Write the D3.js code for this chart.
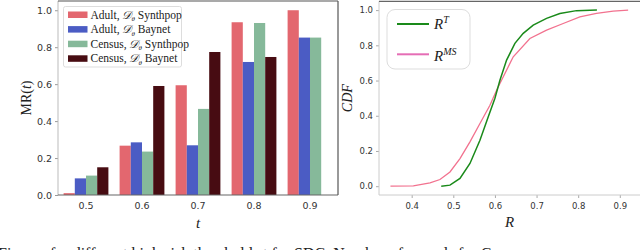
<!DOCTYPE html>
<html lang="en">
<head>
  <meta charset="UTF-8" />
  <title>MR(t) and CDF of R</title>
  <script src="https://cdnjs.cloudflare.com/ajax/libs/d3/7.8.2/d3.min.js"></script>
  <style>
    body { margin: 0; padding: 0; background: #fff; }
    svg { display: block; }
    .tick text { font-family: "DejaVu Sans", sans-serif; fill: #333; }
    .serif { font-family: "Liberation Serif", "DejaVu Serif", serif; fill: #222; }
  </style>
</head>
<body>
<svg id="chart" width="640" height="250"></svg>

<script>
/* ---------- data: left panel (bars) ---------- */
const thresholds = ["0.5", "0.6", "0.7", "0.8", "0.9"];
const seriesLabels = ["Adult", "Adult", "Census", "Census"];
const seriesMethods = ["Synthpop", "Baynet", "Synthpop", "Baynet"];
const adultSynthpop  = [0.010, 0.267, 0.594, 0.935, 1.000];
const adultBaynet    = [0.090, 0.285, 0.269, 0.720, 0.852];
const censusSynthpop = [0.105, 0.235, 0.466, 0.931, 0.852];
const censusBaynet   = [0.150, 0.590, 0.774, 0.747, null];
const barColors = ["#e3676f", "#4b5cc4", "#86b99a", "#470c12"];
const barYTicks = [0.0, 0.2, 0.4, 0.6, 0.8, 1.0];

/* ---------- data: right panel (CDF curves) ---------- */
const rT_R   = [0.471, 0.492, 0.516, 0.540, 0.564, 0.584, 0.600, 0.612, 0.628, 0.648, 0.668, 0.692, 0.724, 0.756, 0.796, 0.845];
const rT_CDF = [0.000, 0.006, 0.044, 0.129, 0.261, 0.394, 0.500, 0.602, 0.716, 0.811, 0.868, 0.915, 0.953, 0.981, 0.997, 1.000];
const rMS_R   = [0.349, 0.404, 0.444, 0.468, 0.492, 0.516, 0.540, 0.564, 0.588, 0.604, 0.612, 0.644, 0.684, 0.724, 0.764, 0.804, 0.844, 0.884, 0.920];
const rMS_CDF = [0.000, 0.002, 0.019, 0.038, 0.081, 0.157, 0.252, 0.356, 0.460, 0.545, 0.583, 0.735, 0.839, 0.886, 0.924, 0.962, 0.981, 0.994, 1.000];
const cdfXTicks = [0.4, 0.5, 0.6, 0.7, 0.8, 0.9];
const cdfYTicks = [0.0, 0.2, 0.4, 0.6, 0.8, 1.0];

const svg = d3.select("#chart");

/* ======================= LEFT: grouped bars ======================= */
const L = { left: 58, right: 338, top: 1, bottom: 195 };

const x0 = d3.scaleBand().domain(thresholds).range([L.left, L.right])
  .paddingInner(0.2).paddingOuter(0.1);
const x1 = d3.scaleBand().domain(d3.range(4)).range([0, x0.bandwidth()]);
const yBar = d3.scaleLinear().domain([0, 1.05]).range([L.bottom, L.top]);

const seriesValues = [adultSynthpop, adultBaynet, censusSynthpop, censusBaynet];
const barRows = [];
thresholds.forEach((t, i) => {
  seriesValues.forEach((vals, s) => {
    if (vals[i] != null) barRows.push({ t, s, v: vals[i] });
  });
});

svg.append("g").selectAll("rect").data(barRows).join("rect")
  .attr("x", d => x0(d.t) + x1(d.s))
  .attr("y", d => yBar(d.v))
  .attr("width", x1.bandwidth())
  .attr("height", d => yBar(0) - yBar(d.v))
  .attr("fill", d => barColors[d.s]);

// axes
const yAxisL = svg.append("g").attr("transform", `translate(${L.left},0)`)
  .call(d3.axisLeft(yBar).tickValues(barYTicks).tickFormat(d3.format(".1f")).tickSize(3).tickPadding(3));
yAxisL.select(".domain").remove();
yAxisL.selectAll(".tick line").attr("stroke", "#999");
yAxisL.selectAll(".tick text").style("font-size", "9.5px");

const xAxisL = svg.append("g").attr("transform", `translate(0,${L.bottom})`)
  .call(d3.axisBottom(x0).tickSize(0).tickPadding(7));
xAxisL.select(".domain").remove();
xAxisL.selectAll(".tick text").style("font-size", "9.5px");

// spines
svg.append("line").attr("x1", L.left).attr("x2", L.left).attr("y1", L.top).attr("y2", L.bottom)
  .attr("stroke", "#bbb");
svg.append("line").attr("x1", L.left).attr("x2", L.right).attr("y1", L.bottom).attr("y2", L.bottom)
  .attr("stroke", "#666").attr("stroke-width", 1.2);
svg.append("line").attr("x1", L.right).attr("x2", L.right).attr("y1", L.top).attr("y2", L.bottom)
  .attr("stroke", "#555").attr("stroke-width", 1.2);
svg.append("line").attr("x1", L.left).attr("x2", L.right).attr("y1", L.top).attr("y2", L.top)
  .attr("stroke", "#555").attr("stroke-width", 1.2);

// legend
const legL = svg.append("g");
legL.append("rect").attr("x", 63.5).attr("y", 6.5).attr("width", 118).attr("height", 60.5)
  .attr("rx", 2).attr("fill", "#fff").attr("fill-opacity", 0.85).attr("stroke", "#ddd");
seriesLabels.forEach((name, i) => {
  const cy = 14.5 + i * 14.6;
  legL.append("rect").attr("x", 68).attr("y", cy - 3).attr("width", 19.5).attr("height", 6.5)
    .attr("fill", barColors[i]);
  const tx = legL.append("text").attr("class", "serif").attr("x", 90.5).attr("y", cy + 4)
    .style("font-size", "11.5px");
  tx.append("tspan").text(name + ", ");
  tx.append("tspan").style("font-style", "italic").text("\u{1D49F}");
  tx.append("tspan").attr("dy", 2.5).style("font-size", "7px").style("font-style", "italic").text("θ");
  tx.append("tspan").attr("dy", -2.5).text(" " + seriesMethods[i]);
});

// labels
svg.append("text").attr("class", "serif")
  .attr("transform", `translate(31,${(L.top + L.bottom) / 2}) rotate(-90)`)
  .attr("text-anchor", "middle").style("font-size", "14px")
  .call(t => {
    t.append("tspan").text("MR(");
    t.append("tspan").style("font-style", "italic").text("t");
    t.append("tspan").text(")");
  });
svg.append("text").attr("class", "serif").attr("x", (L.left + L.right) / 2).attr("y", 228)
  .attr("text-anchor", "middle").style("font-size", "15px").style("font-style", "italic").text("t");

/* ======================= RIGHT: CDF curves ======================= */
const R = { left: 379, right: 640, top: 1.3, bottom: 195 };
const xR = d3.scaleLinear().domain([0.3215, 0.9485]).range([R.left, R.right]);
const yR = d3.scaleLinear().domain([-0.05, 1.05]).range([R.bottom, R.top]);

const line = d3.line().x(d => xR(d[0])).y(d => yR(d[1]));
const curveT = rT_R.map((r, i) => [r, rT_CDF[i]]);
const curveMS = rMS_R.map((r, i) => [r, rMS_CDF[i]]);
const greenC = "#1a8a1a";
const pinkC = "#f2728f";

svg.append("path").datum(curveMS).attr("d", line)
  .attr("fill", "none").attr("stroke", pinkC).attr("stroke-width", 1.3);
svg.append("path").datum(curveT).attr("d", line)
  .attr("fill", "none").attr("stroke", greenC).attr("stroke-width", 1.5);

const yAxisR = svg.append("g").attr("transform", `translate(${R.left},0)`)
  .call(d3.axisLeft(yR).tickValues(cdfYTicks).tickFormat(d3.format(".1f")).tickSize(3).tickPadding(3));
yAxisR.select(".domain").remove();
yAxisR.selectAll(".tick line").attr("stroke", "#aaa");
yAxisR.selectAll(".tick text").style("font-size", "8.5px");

const xAxisR = svg.append("g").attr("transform", `translate(0,${R.bottom})`)
  .call(d3.axisBottom(xR).tickValues(cdfXTicks).tickFormat(d3.format(".1f")).tickSize(3).tickPadding(5));
xAxisR.select(".domain").remove();
xAxisR.selectAll(".tick line").attr("stroke", "#aaa");
xAxisR.selectAll(".tick text").style("font-size", "8.5px");

svg.append("line").attr("x1", R.left).attr("x2", R.left).attr("y1", R.top).attr("y2", R.bottom)
  .attr("stroke", "#ccc");
svg.append("line").attr("x1", R.left).attr("x2", R.right).attr("y1", R.bottom).attr("y2", R.bottom)
  .attr("stroke", "#ccc");
svg.append("line").attr("x1", R.left).attr("x2", R.right).attr("y1", R.top).attr("y2", R.top)
  .attr("stroke", "#666").attr("stroke-width", 1.2);

// legend
const legR = svg.append("g");
legR.append("rect").attr("x", 387).attr("y", 9.5).attr("width", 83).attr("height", 59.5)
  .attr("rx", 8).attr("fill", "#fff").attr("stroke", "#ddd");
[["T", greenC, 24, 29], ["MS", "#e56db5", 54.3, 60.5]].forEach(([sup, col, ly, ty]) => {
  legR.append("line").attr("x1", 397).attr("x2", 429).attr("y1", ly).attr("y2", ly)
    .attr("stroke", col).attr("stroke-width", 2);
  const tx = legR.append("text").attr("class", "serif").attr("x", 434).attr("y", ty)
    .style("font-size", "15px").style("font-style", "italic");
  tx.append("tspan").text("R");
  tx.append("tspan").attr("dy", -6).style("font-size", "10px").text(sup);
});

svg.append("text").attr("class", "serif")
  .attr("transform", `translate(352,${(R.top + R.bottom) / 2}) rotate(-90)`)
  .attr("text-anchor", "middle").style("font-size", "14px").style("font-style", "italic").text("CDF");
svg.append("text").attr("class", "serif").attr("x", (R.left + R.right) / 2).attr("y", 227)
  .attr("text-anchor", "middle").style("font-size", "15px").style("font-style", "italic").text("R");

/* caption fragment cut by the crop */
svg.append("text").attr("class", "serif").attr("x", -2).attr("y", 258.5)
  .style("font-size", "16px")
  .text("Figures for different high-risk thresholds t for SDC.      Number of records for Census");
</script>
</body>
</html>
